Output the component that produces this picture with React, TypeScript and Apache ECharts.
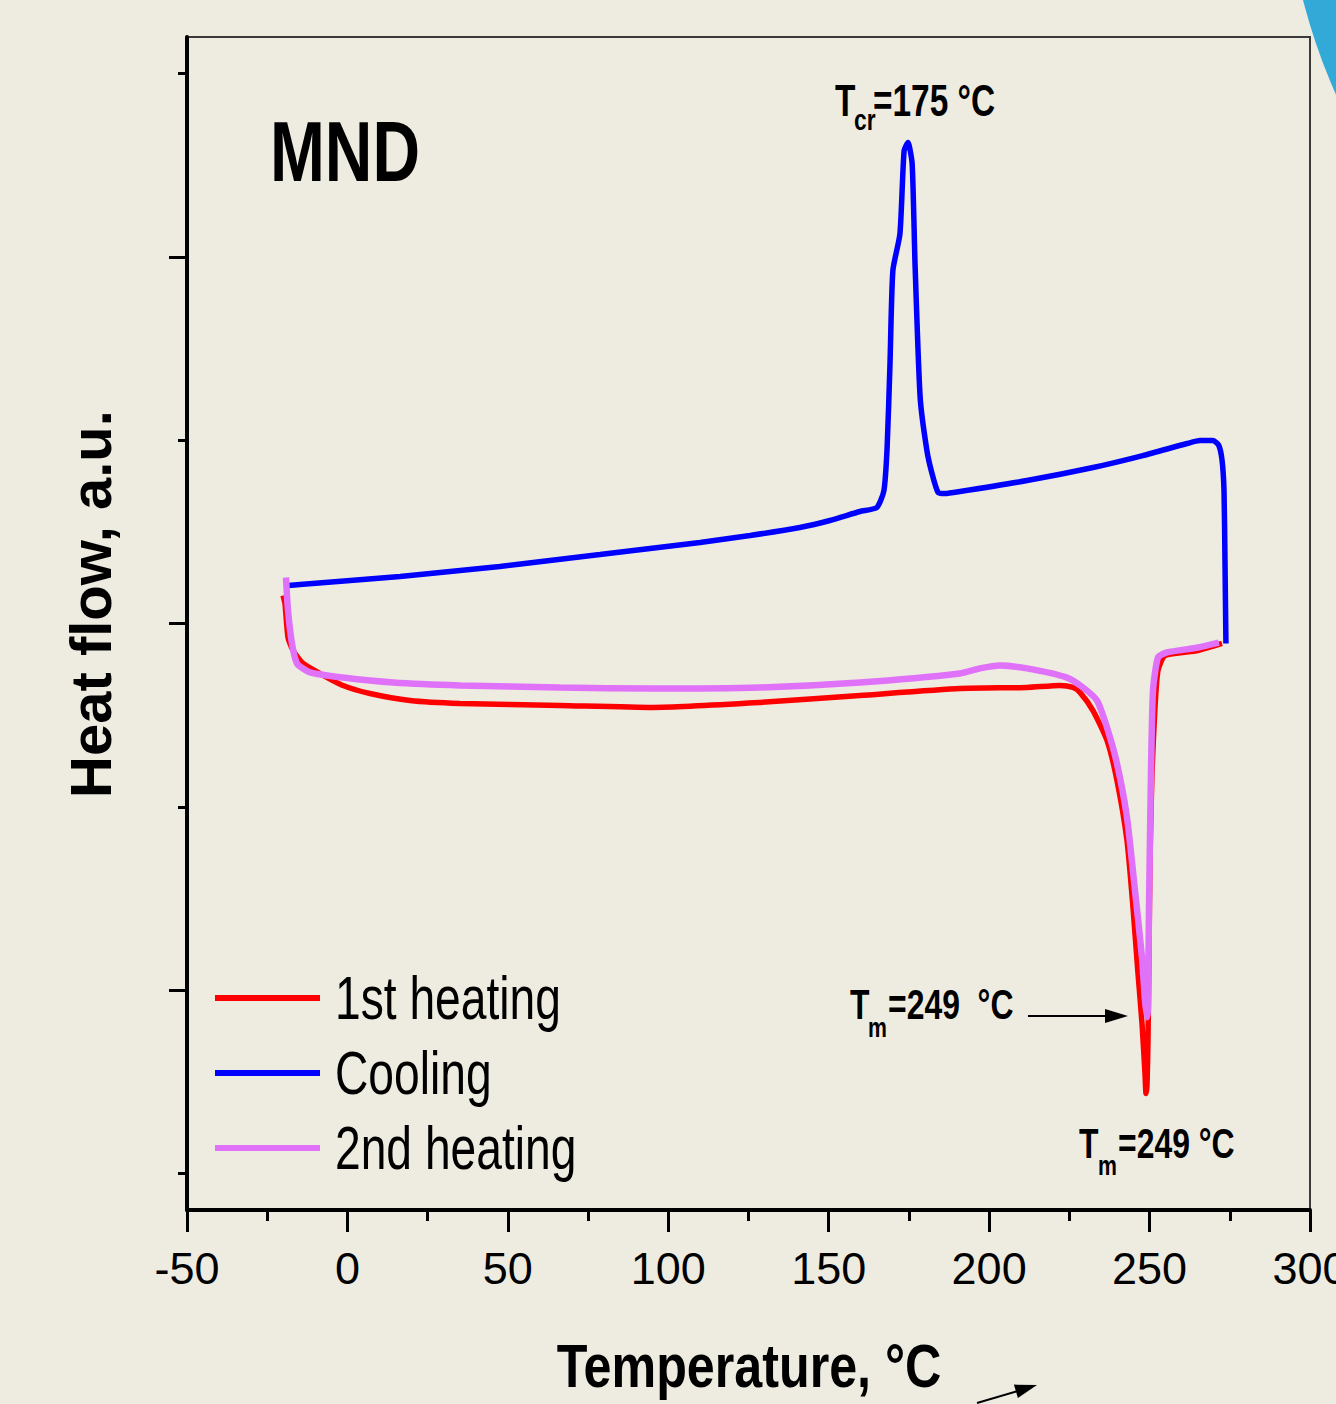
import React, { useEffect, useRef } from "react";
import * as echarts from "echarts";

const SANS = "'Liberation Sans', Arial, sans-serif";

const seriesNames = ["1st heating", "Cooling", "2nd heating"];
const seriesColors = ["#ff0000", "#0000ff", "#e072fa"];

const xMin = -50;
const xMax = 300;
const xStep = 50;
const yMajorTicks = [-2, 0, 2];
const yMinorTicks = [-3, -1, 1, 3];
const xTitle = "Temperature, °C";
const yTitle = "Heat flow, a.u.";

const firstHeating: [number, number][] = [
  [-20.08, 0.153], [-19.46, 0.109], [-18.52, -0.076], [-16.96, -0.147], [-13.85, -0.218],
  [-8.55, -0.273], [-1.38, -0.338], [7.03, -0.382], [19.5, -0.42], [35.08, -0.436],
  [66.25, -0.447], [95.23, -0.458], [128.58, -0.431], [159.75, -0.393], [190.91, -0.355],
  [211.79, -0.349], [222.08, -0.338], [226.13, -0.349], [228.31, -0.376], [232.36, -0.475],
  [236.73, -0.638], [239.84, -0.856], [242.96, -1.184], [244.83, -1.549], [246.39, -1.909],
  [247.64, -2.182], [248.57, -2.455], [248.89, -2.564], [249.2, -2.52], [249.51, -2.275],
  [249.82, -1.784], [250.13, -1.293], [250.75, -0.818], [251.69, -0.458], [252.63, -0.256],
  [254.81, -0.175], [265.09, -0.147], [272.57, -0.109],
];

const cooling: [number, number][] = [
  [273.8, -0.109], [273.5, 0.344], [273.2, 0.725], [272.6, 0.889], [271.6, 0.971],
  [269.8, 0.998], [265.7, 0.998], [261.7, 0.982], [247.9, 0.916], [232.4, 0.851],
  [211.8, 0.78], [190.9, 0.72], [186.2, 0.709], [184.1, 0.715], [182.2, 0.818],
  [180.6, 0.944], [178.5, 1.233], [176.9, 1.964], [176.0, 2.509], [174.7, 2.624],
  [173.5, 2.58], [172.2, 2.127], [170.0, 1.926], [169.1, 1.418], [168.2, 0.96],
  [167.2, 0.725], [165.0, 0.633], [159.7, 0.611], [150.4, 0.562], [141.0, 0.524],
  [125.5, 0.48], [109.9, 0.442], [94.3, 0.409], [78.7, 0.376], [63.1, 0.344],
  [47.5, 0.311], [32.0, 0.284], [16.4, 0.256], [0.9, 0.235], [-14.8, 0.213], [-18.5, 0.207],
];

const secondHeating: [number, number][] = [
  [-19.15, 0.251], [-18.52, 0.071], [-17.28, -0.109], [-15.72, -0.218], [-11.67, -0.267],
  [-1.38, -0.295], [14.2, -0.322], [35.08, -0.338], [66.25, -0.349], [95.23, -0.355],
  [128.58, -0.349], [159.75, -0.322], [190.91, -0.273], [197.15, -0.245], [203.38, -0.229],
  [211.79, -0.245], [224.26, -0.295], [229.25, -0.349], [233.61, -0.42], [236.73, -0.567],
  [239.84, -0.764], [242.96, -1.058], [245.45, -1.456], [247.64, -1.822], [248.57, -2.056],
  [249.2, -2.149], [249.51, -2.095], [249.82, -1.549], [250.44, -0.818], [251.07, -0.365],
  [252.63, -0.185], [255.43, -0.158], [265.09, -0.131], [271.6, -0.104],
];

const seriesData = [firstHeating, cooling, secondHeating];
const seriesWidths = [5.5, 5.5, 6.5];

export default function App() {
  const ref = useRef<HTMLDivElement>(null);
  useEffect(() => {
    document.body.style.margin = "0";
    const chart = echarts.init(ref.current!, null, { renderer: "svg" });
    const txt = (
      text: string,
      x: number,
      y: number,
      size: number,
      scaleX: number,
      bold = true,
      align = "left"
    ) => ({
      type: "text",
      x,
      y,
      scaleX,
      style: {
        text,
        fill: "#000",
        font: `${bold ? "bold " : ""}${size}px ${SANS}`,
        textAlign: align,
        textVerticalAlign: "middle",
      },
      z: 100,
    });
    const legendRows = [998, 1073, 1148];
    const legendGraphics: any[] = [];
    seriesNames.forEach((name, i) => {
      legendGraphics.push({
        type: "rect",
        shape: { x: 215, y: legendRows[i] - 3, width: 105, height: 6 },
        style: { fill: seriesColors[i] },
        z: 100,
      });
      legendGraphics.push(txt(name, 335, legendRows[i], 62, 0.745, false));
    });
    const SC = 0.76;
    chart.setOption({
      animation: false,
      backgroundColor: "#eeece1",
      grid: {
        left: 187,
        right: 26,
        top: 37,
        bottom: 194,
        show: true,
        borderColor: "#3a3a3a",
        borderWidth: 2,
        backgroundColor: "transparent",
        outerBoundsMode: "none",
        containLabel: false,
      },
      xAxis: {
        type: "value",
        min: xMin,
        max: xMax,
        interval: xStep,
        axisLine: { show: true, onZero: false, lineStyle: { color: "#000", width: 4 } },
        axisTick: { show: true, inside: false, length: 22, lineStyle: { color: "#000", width: 3 } },
        minorTick: { show: true, splitNumber: 2, length: 11, lineStyle: { color: "#000", width: 3 } },
        splitLine: { show: false },
        axisLabel: {
          show: true,
          fontSize: 45,
          fontFamily: SANS,
          color: "#000",
          margin: 36,
        },
      },
      yAxis: [
        {
          type: "value",
          min: -3.2,
          max: 3.2,
          axisLine: { show: true, onZero: false, lineStyle: { color: "#000", width: 4 } },
          axisTick: {
            show: true,
            inside: false,
            length: 18,
            customValues: yMajorTicks,
            lineStyle: { color: "#000", width: 3 },
          },
          axisLabel: { show: false },
          splitLine: { show: false },
        },
        {
          type: "value",
          min: -3.2,
          max: 3.2,
          position: "left",
          axisLine: { show: false, onZero: false },
          axisTick: {
            show: true,
            inside: false,
            length: 9,
            customValues: yMinorTicks,
            lineStyle: { color: "#000", width: 3 },
          },
          axisLabel: { show: false },
          splitLine: { show: false },
        },
      ],
      series: seriesNames.map((name, i) => ({
        name,
        type: "line",
        data: seriesData[i],
        symbol: "none",
        showSymbol: false,
        smooth: 0.2,
        color: seriesColors[i],
        lineStyle: { color: seriesColors[i], width: seriesWidths[i] },
        z: 2 + i,
      })),
      graphic: [
        {
          type: "circle",
          shape: { cx: 1886, cy: -150, r: 602 },
          style: { fill: "#33a9d8" },
          z: 100,
        },
        {
          type: "text",
          x: 90,
          y: 604,
          rotation: Math.PI / 2,
          style: {
            text: yTitle,
            fill: "#000",
            font: `bold 58px ${SANS}`,
            textAlign: "center",
            textVerticalAlign: "middle",
          },
          z: 100,
        },
        txt(xTitle, 749, 1366, 62, 0.81, true, "center"),
        txt("MND", 270, 151, 86, 0.766),
        txt("T", 835, 101, 44, SC),
        txt("cr", 854, 120, 30, SC),
        txt("=175 °C", 873, 101, 44, SC),
        txt("T", 850, 1004, 42, SC),
        txt("m", 868, 1027, 28, SC),
        txt("=249\u00a0 °C", 888, 1004, 42, SC),
        txt("T", 1079, 1143, 42, SC),
        txt("m", 1098, 1165, 28, SC),
        txt("=249 °C", 1118, 1143, 42, SC),
        ...legendGraphics,
        {
          type: "line",
          shape: { x1: 1028, y1: 1016, x2: 1108, y2: 1016 },
          style: { stroke: "#000", lineWidth: 2 },
          z: 100,
        },
        {
          type: "polygon",
          shape: { points: [[1105, 1009], [1128, 1016], [1105, 1023]] },
          style: { fill: "#000" },
          z: 100,
        },
        {
          type: "line",
          shape: { x1: 977, y1: 1403, x2: 1018, y2: 1391 },
          style: { stroke: "#000", lineWidth: 2 },
          z: 100,
        },
        {
          type: "polygon",
          shape: { points: [[1037, 1385], [1013.9, 1384.6], [1017.9, 1398]] },
          style: { fill: "#000" },
          z: 100,
        },
      ],
    });
    return () => chart.dispose();
  }, []);
  return (
    <div
      ref={ref}
      style={{ position: "absolute", left: 0, top: 0, width: 1336, height: 1404 }}
    />
  );
}
